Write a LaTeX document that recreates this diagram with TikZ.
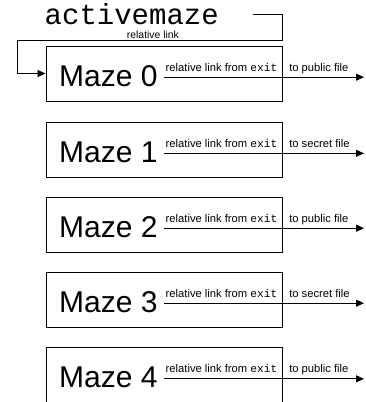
\documentclass[tikz,border=0pt]{standalone}
\usepackage{fontspec}
\setmainfont{Liberation Sans}
\setmonofont{Liberation Mono}
\usetikzlibrary{arrows.meta}
\begin{document}
\begin{tikzpicture}[x=1pt,y=-1pt,
  mazebox/.style={draw, line width=1pt, minimum width=236pt, minimum height=55pt, inner sep=0pt},
  mazetext/.style={font=\fontsize{30}{36}\selectfont, inner sep=0pt, anchor=base west},
  linklabel/.style={font=\fontsize{11.2}{13}\selectfont, inner sep=0pt, anchor=base west},
  smalllabel/.style={font=\fontsize{10.4}{12}\selectfont, inner sep=0pt, anchor=base},
  conn/.style={line width=0.9pt, -{Triangle[length=8pt,width=7pt]}},
]
\useasboundingbox (0,0) rectangle (365,402);
\fill[white] (0,0) rectangle (365,402);

\node[font=\ttfamily\fontsize{29}{32}\selectfont, inner sep=0pt, anchor=base west] (am) at (44.5,24) {activemaze};

\foreach \k/\c/\f in {0/73.5/public,1/149.5/secret,2/224.5/public,3/299.5/secret,4/375/public}{
  \node[mazebox] (m\k) at (164,\c) {};
  \node[mazetext] (t\k) at (59,\c+12.5) {Maze \k};
  \coordinate (s\k) at ([xshift=6pt,yshift=-1.5pt]t\k.east);
  \coordinate (e\k) at (364,\c);
  \draw[conn] (s\k) -- (s\k -| e\k)
    node[linklabel, pos=0, yshift=6pt, xshift=1.5pt] {relative link from \texttt{exit}\hspace{12pt}to \f\ file};
}

\coordinate (c1) at (282,40);
\coordinate (c2) at (17,40);
\draw[conn] ([shift={(34,-10)}]am.base east) -| (c1)
  -- node[smalllabel, pos=0.487, yshift=2pt] (rl) {relative link} (c2)
  |- (m0.west);
\end{tikzpicture}
\end{document}
